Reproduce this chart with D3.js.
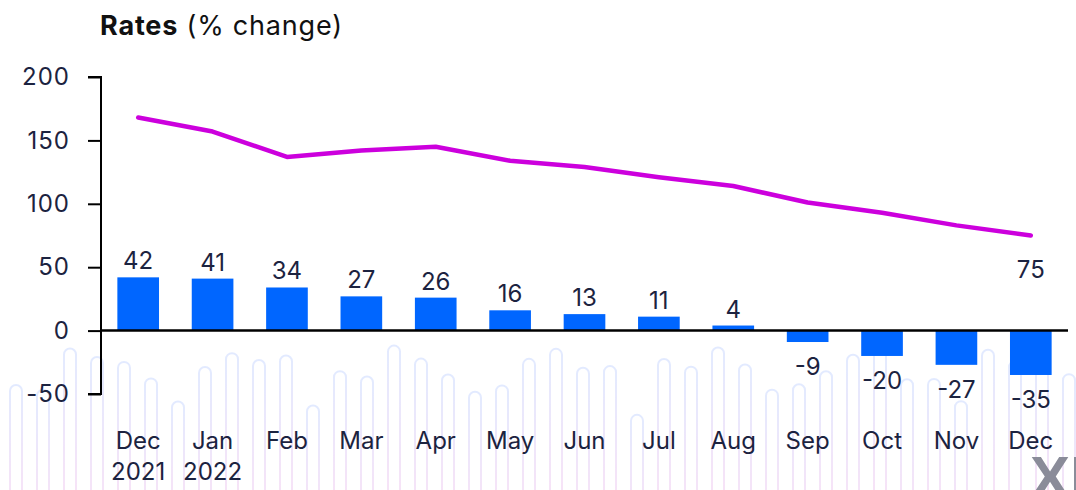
<!DOCTYPE html>
<html><head><meta charset="utf-8">
<script src="https://cdn.jsdelivr.net/npm/d3@7"></script>
<style>
html,body{margin:0;padding:0;background:#fff;}
svg{display:block;font-family:"Inter","Noto Sans",sans-serif;}
</style></head>
<body>
<svg id="chart" width="1076" height="490"></svg>
<script>
const categories = ["Dec|2021","Jan|2022","Feb","Mar","Apr","May","Jun","Jul","Aug","Sep","Oct","Nov","Dec"];
const barValues = [42,41,34,27,26,16,13,11,4,-9,-20,-27,-35];
const lineValues = [168,157,137,142,145,134,129,121,114,101,93,83,75];
const yTicks = [200,150,100,50,0,-50];
const lastLineLabel = "75";

const svg = d3.select("#chart");
const W = 1076, H = 490;
const m = {left:101, right:8, top:77, bottom:96};
const txtCol = "#1c2340";

// decorative waveform background
const deco = svg.append("g").attr("opacity",0.4);
const grad = svg.append("defs").append("linearGradient").attr("id","wg").attr("x1",0).attr("x2",0).attr("y1",0).attr("y2",1);
grad.append("stop").attr("offset","0%").attr("stop-color","#b9cdff");
grad.append("stop").attr("offset","100%").attr("stop-color","#f2b8ea");
const decoCount = 40;
d3.range(decoCount).forEach(i=>{
  const x = 10 + i*27;
  const h = 60 + 45*Math.abs(Math.sin(i*0.55)) + 25*Math.abs(Math.cos(i*1.3));
  const top = 490 - h - 20 + (i%2)*10;
  deco.append("rect").attr("x",x).attr("y",top).attr("width",12).attr("height",h+40)
    .attr("rx",6).attr("fill","none").attr("stroke","url(#wg)").attr("stroke-width",2);
  if(i%3===0){
    deco.append("rect").attr("x",x).attr("y",top+h+25).attr("width",12).attr("height",40)
      .attr("rx",6).attr("fill","none").attr("stroke","url(#wg)").attr("stroke-width",2);
  }
});
svg.append("text").attr("x",1030).attr("y",498).attr("font-size",60).attr("font-weight",700)
  .attr("fill","#8a8c99").attr("font-family","Liberation Sans, Arial, sans-serif").text("XE");

const x = d3.scaleBand().domain(d3.range(categories.length)).range([m.left, W-m.right]).paddingInner(0.44).paddingOuter(0.22);
const y = d3.scaleLinear().domain([-50,200]).range([394, 77]);

// title
const title = svg.append("text").attr("x",100).attr("y",35).attr("font-size",27).attr("letter-spacing",0.8).attr("fill","#111");
title.append("tspan").attr("font-weight",700).text("Rates");
title.append("tspan").text(" (% change)");

// y axis
const yAxis = svg.append("g").attr("transform",`translate(${m.left},0)`)
  .call(d3.axisLeft(y).tickValues(yTicks).tickSize(13).tickPadding(18).tickFormat(d=>d<0?"-"+Math.abs(d):d));
yAxis.select(".domain").attr("stroke","#000").attr("stroke-width",2).attr("d",`M-13,${y(200)}H0V${y(-50)}H-13`);
yAxis.selectAll(".tick line").attr("stroke","#000").attr("stroke-width",2);
yAxis.selectAll(".tick text").attr("font-size",24).attr("letter-spacing",1).attr("fill",txtCol).attr("font-family","Inter, Noto Sans, sans-serif");

// bars
svg.append("g").selectAll("rect").data(barValues).join("rect")
  .attr("x",(d,i)=>x(i)).attr("width",x.bandwidth())
  .attr("y",d=>y(Math.max(0,d))).attr("height",d=>Math.abs(y(d)-y(0)))
  .attr("fill","#0066ff");

// zero line
svg.append("line").attr("x1",m.left).attr("x2",W-m.right).attr("y1",y(0)).attr("y2",y(0))
  .attr("stroke","#000").attr("stroke-width",2.5);

// bar labels
svg.append("g").selectAll("text").data(barValues).join("text")
  .attr("x",(d,i)=>x(i)+x.bandwidth()/2)
  .attr("y",d=> d>=0 ? y(d)-8 : y(d)+33)
  .attr("text-anchor","middle").attr("font-size",24).attr("fill",txtCol)
  .text(d=>d<0?"-"+Math.abs(d):d);

// line
const line = d3.line().x((d,i)=>x(i)+x.bandwidth()/2).y(d=>y(d));
svg.append("path").datum(lineValues).attr("d",line).attr("fill","none")
  .attr("stroke","#cc00dd").attr("stroke-width",4.5).attr("stroke-linecap","round").attr("stroke-linejoin","round");
const li = lineValues.length-1;
svg.append("text").attr("x",x(li)+x.bandwidth()/2).attr("y",y(lineValues[li])+42)
  .attr("text-anchor","middle").attr("font-size",24).attr("fill",txtCol).text(lastLineLabel);

// x labels
const xl = svg.append("g").selectAll("text").data(categories).join("text")
  .attr("x",(d,i)=>x(i)+x.bandwidth()/2).attr("y",449)
  .attr("text-anchor","middle").attr("font-size",24).attr("fill",txtCol);
xl.each(function(d){
  const parts = d.split("|");
  const t = d3.select(this);
  parts.forEach((p,k)=>{
    t.append("tspan").attr("x",t.attr("x")).attr("dy",k===0?0:31).text(p);
  });
});
</script>
</body></html>
